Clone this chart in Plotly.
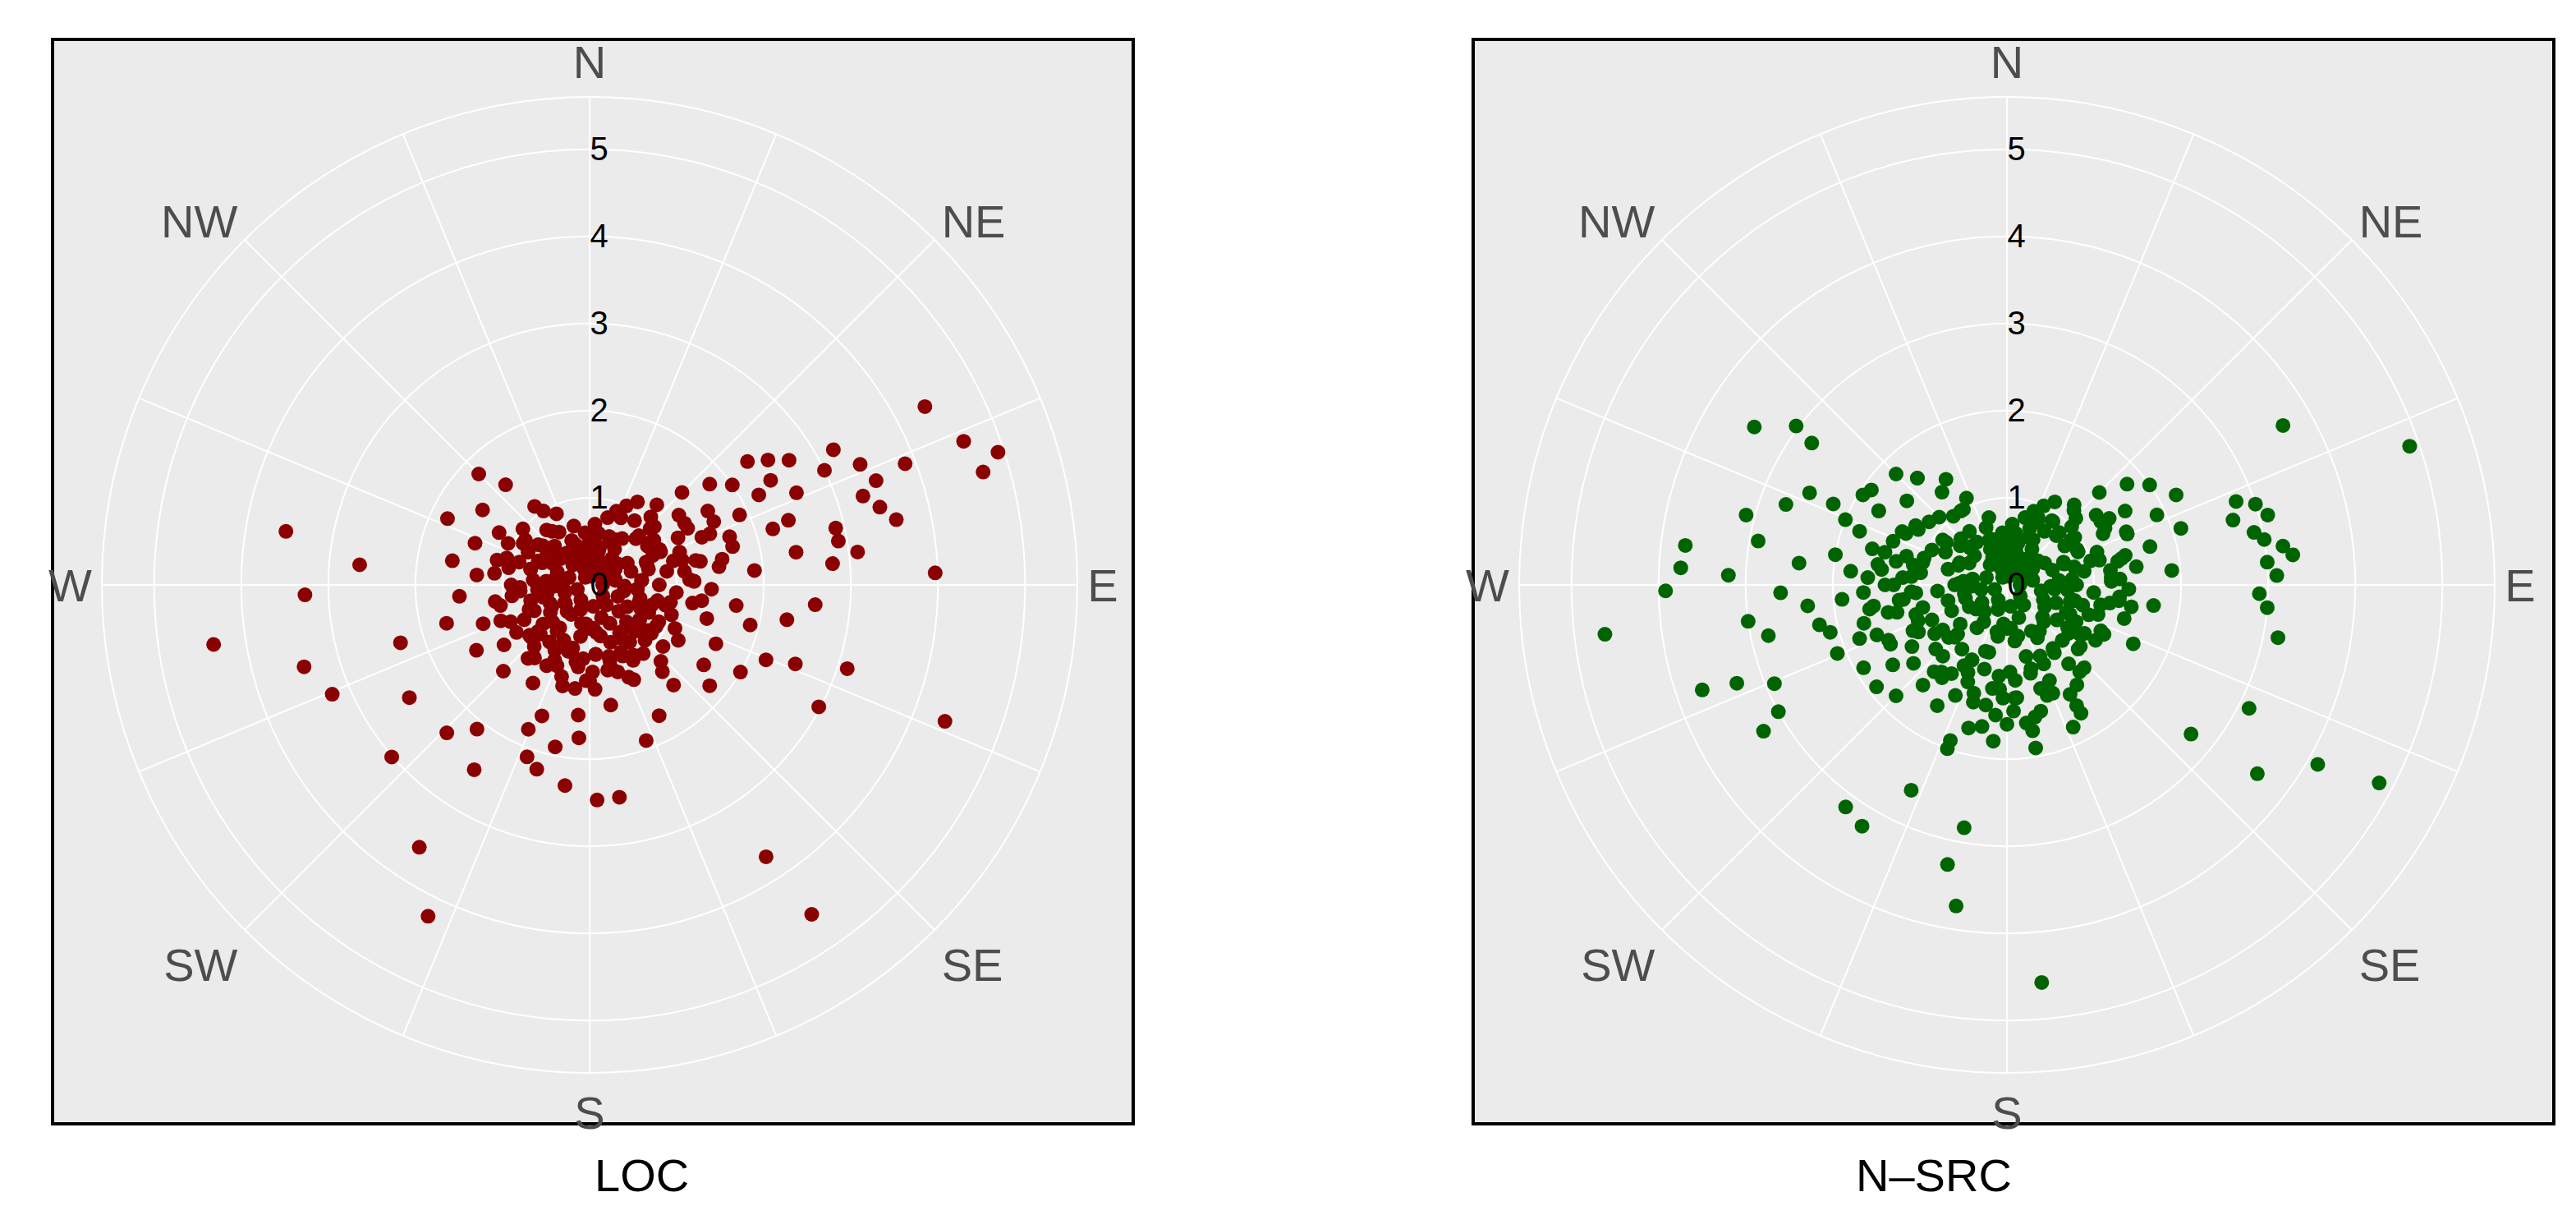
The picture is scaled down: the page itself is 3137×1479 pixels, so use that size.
import plotly.graph_objects as go

# compass directions (degrees clockwise from north) and distances
directions = [0, 45, 90, 135, 180, 225, 270, 315]
direction_labels = ["N", "NE", "E", "SE", "S", "SW", "W", "NW"]
radial_ticks = [0, 1, 2, 3, 4, 5]
panel_titles = ["LOC", "N\u2013SRC"]

# LOC panel: scattered points
loc_theta = [
    62, 69, 72, 74, 69, 88, 111, 147, 146, 108, 118, 111, 100, 95, 104, 113,
    61, 64, 66, 70, 72, 75, 78, 80, 83, 85, 58, 55, 52, 60, 66, 73, 77, 81,
    280, 268, 275, 261, 254, 247, 253, 238, 229, 213, 206, 224, 218, 212,
    196, 187, 178, 172, 184, 192, 203, 200, 160, 152, 130, 125, 140, 120,
    40, 45, 50, 55, 58, 60, 62, 65, 67, 70, 72, 75, 78, 80, 48, 52, 56, 63,
    68, 74, 82, 85, 88, 90, 92, 95, 98, 100, 103, 106, 110, 115, 118, 122,
    125, 130, 135, 140, 145, 150, 155, 160, 165, 170, 175, 180, 185, 190, 195,
    200, 205, 210, 215, 220, 225, 230, 235, 240, 245, 250, 255, 260, 265, 270,
    275, 280, 285, 290, 295, 300, 305, 310, 315, 320, 325, 330, 335, 340, 345,
    350, 355, 0, 5, 10, 15, 20, 25, 30, 35,
    0, 20, 40, 60, 80, 100, 120, 140, 160, 180, 200, 220, 240, 260, 280, 300,
    320, 340, 10, 50, 90, 130, 170, 210, 250, 290, 330, 30, 70, 110, 150, 190,
    230, 270, 310, 45, 135, 225, 315, 65, 85, 105, 155, 175, 195, 215, 245,
    265, 285, 305, 15, 35, 55, 75, 95, 115, 145, 165, 185, 205, 235, 255, 275,
    295, 325, 345, 25, 48, 58, 78, 88, 98, 128, 148, 168, 178, 188, 198, 208,
    228, 248, 258, 268, 288, 298, 318, 328, 338, 348, 358,
]
loc_r = [
    4.36, 4.6, 4.93, 4.7, 3.88, 3.97, 4.37, 3.72, 4.56, 3.11, 2.98, 2.53, 2.3,
    2.6, 1.9, 2.2, 3.2, 3.0, 3.4, 3.5, 3.3, 3.45, 3.6, 2.9, 3.1, 2.8, 2.7,
    2.5, 2.3, 2.4, 2.6, 2.2, 2.9, 2.4,
    3.54, 3.27, 2.65, 4.37, 3.41, 3.21, 2.27, 2.44, 3.01, 3.59, 4.23, 2.36,
    2.1, 2.5, 2.2, 2.32, 2.47, 2.46, 1.76, 1.9, 1.8, 2.1, 1.9, 1.7, 1.8, 1.6,
    1.5, 2.0,
    1.2, 1.5, 1.8, 2.0, 1.6, 1.3, 2.2, 1.9, 1.5, 1.1, 2.4, 1.7, 1.3, 0.9, 1.0,
    1.3, 0.8, 0.9, 0.7, 1.0, 1.5, 1.9, 1.2, 0.8, 1.4, 1.0, 1.7, 1.2, 0.8, 1.4,
    1.0, 1.6, 0.9, 1.2, 0.7, 1.1, 0.9, 1.3, 0.8, 1.0, 1.2, 0.7, 1.0, 1.4, 0.8,
    1.1, 1.5, 0.9, 1.2, 1.6, 1.0, 1.3, 0.8, 1.1, 1.4, 0.9, 1.2, 1.5, 1.0, 1.3,
    1.7, 1.1, 1.5, 0.9, 1.3, 1.6, 1.1, 1.4, 1.8, 1.2, 1.5, 1.0, 1.8, 1.5, 1.1,
    0.7, 0.9, 0.5, 0.7, 0.4, 0.6, 0.5, 0.7, 0.6, 0.8, 0.9, 1.0, 1.1, 0.9,
    0.2, 0.3, 0.4, 0.5, 0.3, 0.4, 0.5, 0.3, 0.4, 0.5, 0.3, 0.4, 0.5, 0.3, 0.4,
    0.5, 0.3, 0.2, 0.1, 0.2, 0.15, 0.2, 0.25, 0.2, 0.15, 0.25, 0.1, 0.6, 0.7,
    0.6, 0.7, 0.6, 0.7, 0.6, 0.7, 0.8, 0.6, 0.8, 0.6, 0.9, 0.6, 0.9, 0.9, 0.5,
    0.8, 0.6, 0.7, 0.8, 0.7, 0.9, 0.4, 0.5, 0.9, 1.1, 0.55, 0.75, 0.65, 0.85,
    0.45, 0.95, 0.35, 0.7, 0.5, 0.6, 0.75, 0.45, 0.85, 0.25, 0.35, 0.3, 1.2,
    1.3, 0.9, 0.65, 0.6, 1.0, 1.2, 0.8, 1.05, 0.9, 1.1, 0.5, 0.4, 1.0, 0.8,
    0.6, 1.0, 0.55, 0.35, 0.3,
]

# LOC panel: dense core
loc_core_theta = [
    5, 15, 25, 35, 45, 55, 65, 75, 85, 95, 105, 115, 125, 135, 145, 155, 165,
    175, 185, 195, 205, 215, 225, 235, 245, 255, 265, 275, 285, 295, 305, 315,
    325, 335, 345, 355, 12, 32, 52, 72, 92, 112, 132, 152, 172, 192, 212, 232,
    252, 272, 292, 312, 332, 352, 22, 42, 62, 82, 102, 122, 142, 162, 182, 202,
    222, 242, 262, 282, 302, 322, 342, 57, 67, 77, 87, 117, 137, 157, 177, 197,
    217, 237, 257, 277, 297, 47, 63, 71, 79, 108, 128, 148, 168, 188, 208, 228,
    248, 268, 288, 308,
]
loc_core_r = [
    0.35, 0.45, 0.55, 0.65, 0.75, 0.85, 0.8, 0.7, 0.6, 0.55, 0.6, 0.65, 0.7,
    0.75, 0.8, 0.85, 0.9, 0.8, 0.85, 0.75, 0.7, 0.65, 0.6, 0.55, 0.5, 0.55,
    0.6, 0.65, 0.7, 0.65, 0.6, 0.55, 0.45, 0.35, 0.3, 0.25, 0.2, 0.3, 0.4, 0.5,
    0.4, 0.35, 0.45, 0.5, 0.55, 0.45, 0.4, 0.35, 0.3, 0.35, 0.4, 0.45, 0.3,
    0.15, 0.6, 1.05, 1.15, 1.1, 0.95, 0.9, 1.0, 1.05, 1.1, 1.0, 0.95, 0.85,
    0.9, 0.95, 0.9, 0.8, 0.4, 1.3, 1.4, 1.25, 1.15, 1.1, 1.2, 1.15, 1.2, 1.1,
    1.05, 1.0, 1.05, 1.1, 1.05, 0.95, 1.6, 1.7, 1.55, 0.75, 0.85, 0.95, 1.0,
    0.95, 0.85, 0.8, 0.75, 0.8, 0.85, 0.75,
]

# N-SRC panel: scattered points
src_theta = [
    71, 60, 70, 80, 101, 129, 117, 127, 120, 118, 175, 189, 192, 190, 205,
    211, 216, 239, 241, 251, 263, 269, 273, 277, 302, 307, 306, 302, 262, 258,
    272, 280, 285, 290, 295, 247, 250, 72, 75, 78, 82, 85, 88, 92, 95, 74, 84,
    40, 45, 50, 55, 58, 60, 62, 65, 67, 70, 72, 75, 78, 80, 48, 52, 56, 63,
    68, 74, 82, 85, 88, 90, 92, 95, 98, 100, 103, 106, 110, 115, 118, 122,
    125, 130, 135, 140, 145, 150, 155, 160, 165, 170, 175, 180, 185, 190, 195,
    200, 205, 210, 215, 220, 225, 230, 235, 240, 245, 250, 255, 260, 265, 270,
    275, 280, 285, 290, 295, 300, 305, 310, 315, 320, 325, 330, 335, 340, 345,
    350, 355, 0, 5, 10, 15, 20, 25, 30, 35,
    0, 20, 40, 60, 80, 100, 120, 140, 160, 180, 200, 220, 240, 260, 280, 300,
    320, 340, 10, 50, 90, 130, 170, 210, 250, 290, 330, 30, 70, 110, 150, 190,
    230, 270, 310, 45, 135, 225, 315, 65, 85, 105, 155, 175, 195, 215, 245,
    265, 285, 305, 15, 35, 55, 75, 95, 115, 145, 165, 185, 205, 235, 255, 275,
    295, 325, 345, 25, 48, 58, 78, 88, 98, 128, 148, 168, 178, 188, 198, 208,
    228, 248, 258, 268, 288, 298, 318, 328, 338, 348, 358,
    262, 266, 270, 274, 278, 282, 286, 256, 252, 244, 236, 228, 220, 212, 204,
    196, 184, 176, 164, 156, 144, 132, 124, 116, 108, 96, 86, 76, 66, 56, 46,
    36, 26, 320, 330, 300, 292, 264, 276, 258, 268, 248, 232, 200, 170, 150,
]
src_r = [
    4.89, 3.66, 2.8, 3.0, 3.17, 2.72, 3.12, 3.6, 4.12, 4.84, 4.58, 3.73, 3.28,
    2.83, 2.6, 3.23, 3.15, 3.26, 3.0, 3.7, 4.65, 3.92, 3.75, 3.72, 3.42, 3.03,
    2.77, 1.95, 3.0, 2.8, 3.2, 2.9, 3.1, 2.7, 2.5, 2.9, 3.3, 3.0, 3.1, 2.9,
    3.2, 3.0, 3.1, 2.9, 3.0, 2.7, 3.3,
    1.2, 1.5, 1.8, 2.0, 1.6, 1.3, 2.2, 1.9, 1.5, 1.1, 2.1, 1.7, 1.3, 0.9, 1.0,
    1.3, 0.8, 0.9, 0.7, 1.0, 1.5, 1.9, 1.2, 0.8, 1.4, 1.0, 1.7, 1.2, 0.8, 1.4,
    1.0, 1.6, 0.9, 1.2, 0.7, 1.1, 0.9, 1.3, 1.4, 1.6, 1.8, 1.3, 1.5, 1.7, 1.3,
    1.6, 1.8, 1.4, 1.7, 1.9, 1.4, 1.6, 1.3, 1.5, 1.8, 1.4, 1.6, 1.9, 1.5, 1.8,
    2.1, 1.6, 1.9, 1.4, 1.8, 2.0, 1.6, 1.8, 2.2, 1.7, 1.9, 1.5, 1.8, 1.6, 1.3,
    1.0, 1.1, 0.7, 0.8, 0.5, 0.6, 0.5, 0.7, 0.6, 0.8, 0.9, 1.0, 1.1, 0.9,
    0.2, 0.3, 0.4, 0.5, 0.3, 0.4, 0.5, 0.3, 0.4, 0.5, 0.3, 0.4, 0.5, 0.3, 0.4,
    0.5, 0.3, 0.2, 0.1, 0.2, 0.15, 0.2, 0.25, 0.2, 0.15, 0.25, 0.1, 0.6, 0.7,
    0.6, 0.7, 0.6, 0.7, 0.6, 0.7, 0.8, 0.6, 0.8, 0.6, 0.9, 0.6, 0.9, 0.9, 0.5,
    0.8, 0.6, 0.7, 0.8, 0.7, 0.9, 0.4, 0.5, 0.9, 1.1, 0.55, 0.75, 0.65, 0.85,
    0.45, 0.95, 0.35, 0.7, 0.5, 0.6, 0.75, 0.45, 0.85, 0.25, 0.35, 0.3, 1.2,
    1.3, 0.9, 0.65, 0.6, 1.0, 1.2, 0.8, 1.05, 0.9, 1.1, 0.5, 0.4, 1.0, 0.8,
    0.6, 1.0, 0.55, 0.35, 0.3,
    1.2, 1.1, 1.3, 1.2, 1.0, 1.1, 1.2, 1.3, 1.1, 1.2, 1.0, 1.1, 1.3, 1.2, 1.1,
    1.4, 1.2, 1.3, 1.0, 1.2, 0.9, 1.1, 1.0, 1.2, 1.1, 1.3, 1.2, 1.4, 1.5, 1.3,
    1.1, 0.9, 0.8, 1.6, 1.4, 1.7, 2.0, 2.3, 2.4, 2.2, 2.6, 2.1, 1.9, 2.0, 1.9,
    1.7,
]

# N-SRC panel: dense core
src_core_theta = [
    5, 15, 25, 35, 45, 55, 65, 75, 85, 95, 105, 115, 125, 135, 145, 155, 165,
    175, 185, 195, 205, 215, 225, 235, 245, 255, 265, 275, 285, 295, 305, 315,
    325, 335, 345, 355, 12, 32, 52, 72, 92, 112, 132, 152, 172, 192, 212, 232,
    252, 272, 292, 312, 332, 352, 22, 42, 62, 82, 102, 122, 142, 162, 182, 202,
    222, 242, 262, 282, 302, 322, 342, 57, 67, 77, 87, 117, 137, 157, 177, 197,
    217, 237, 257, 277, 297, 261, 267, 273, 279, 285, 291, 297, 303, 309, 315,
    243, 249, 255, 185, 190, 168, 172, 150, 160, 100,
]
src_core_r = [
    0.4, 0.5, 0.6, 0.75, 0.85, 0.95, 0.9, 0.8, 0.75, 0.7, 0.75, 0.8, 0.85,
    0.9, 0.95, 1.0, 1.05, 1.1, 1.05, 1.0, 0.95, 0.9, 0.85, 0.9, 0.95, 1.0,
    1.05, 1.1, 1.0, 0.95, 0.85, 0.75, 0.6, 0.45, 0.35, 0.3, 0.25, 0.35, 0.45,
    0.55, 0.5, 0.45, 0.55, 0.6, 0.65, 0.55, 0.5, 0.45, 0.5, 0.55, 0.6, 0.5,
    0.35, 0.2, 0.7, 1.15, 1.25, 1.2, 1.1, 1.05, 1.15, 1.25, 1.3, 1.2, 1.1,
    1.15, 1.25, 1.3, 1.2, 1.0, 0.55, 1.4, 1.5, 1.35, 1.3, 1.25, 1.3, 1.35,
    1.45, 1.3, 1.25, 1.3, 1.4, 1.45, 1.35, 1.55, 1.65, 1.6, 1.5, 1.45, 1.4,
    1.3, 1.25, 1.15, 1.1, 1.5, 1.6, 1.7, 1.5, 1.65, 1.55, 1.6, 1.45, 1.35,
    1.45,
]

colors = ["#8B0000", "#006400"]
datasets = [
    (loc_theta + loc_core_theta, loc_r + loc_core_r),
    (src_theta + src_core_theta, src_r + src_core_r),
]

W, H = 3137, 1479
panel_px = [(56, 1372), (1786, 3102)]
centers_px = [710, 2436]
center_y = 775          # from bottom
radius_px = 594

fig = go.Figure()
layout = dict(
    width=W, height=H, margin=dict(l=0, r=0, t=0, b=0),
    paper_bgcolor="white", showlegend=False,
    font=dict(family="Liberation Sans, Arial, sans-serif"),
    shapes=[], annotations=[],
)

for i, (th, rr) in enumerate(datasets):
    name = "polar" if i == 0 else "polar2"
    fig.add_trace(go.Scatterpolar(
        theta=th, r=rr, mode="markers", subplot=name,
        marker=dict(color=colors[i], size=18, line=dict(width=0)),
    ))
    cx = centers_px[i]
    layout[name] = dict(
        domain=dict(x=[(cx - radius_px) / W, (cx + radius_px) / W],
                    y=[(center_y - radius_px) / H, (center_y + radius_px) / H]),
        bgcolor="#EBEBEB",
        radialaxis=dict(
            range=[0, 5.6], tickvals=radial_ticks, angle=90, tickangle=90,
            showline=False, gridcolor="white", gridwidth=2, ticks="",
            tickfont=dict(size=40, color="black"),
        ),
        angularaxis=dict(
            rotation=90, direction="clockwise",
            tickvals=[k * 22.5 for k in range(16)],
            ticktext=[direction_labels[k // 2] if k % 2 == 0 else "" for k in range(16)],
            showline=True, linecolor="white", linewidth=2,
            gridcolor="white", gridwidth=2, ticks="",
            tickfont=dict(size=56, color="#4D4D4D"),
        ),
    )
    x0, x1 = panel_px[i]
    layout["shapes"].append(dict(
        type="rect", xref="paper", yref="paper", layer="below",
        x0=x0 / W, x1=x1 / W, y0=1 - 1360 / H, y1=1 - 40 / H,
        fillcolor="#EBEBEB", line=dict(color="black", width=4),
    ))
    layout["annotations"].append(dict(
        text=panel_titles[i], xref="paper", yref="paper",
        x=(x0 + x1) / 2 / W, y=1 - 1422 / H, yanchor="middle",
        showarrow=False, font=dict(size=56, color="black"),
    ))

fig.update_layout(**layout)
fig.write_html("out.html")
